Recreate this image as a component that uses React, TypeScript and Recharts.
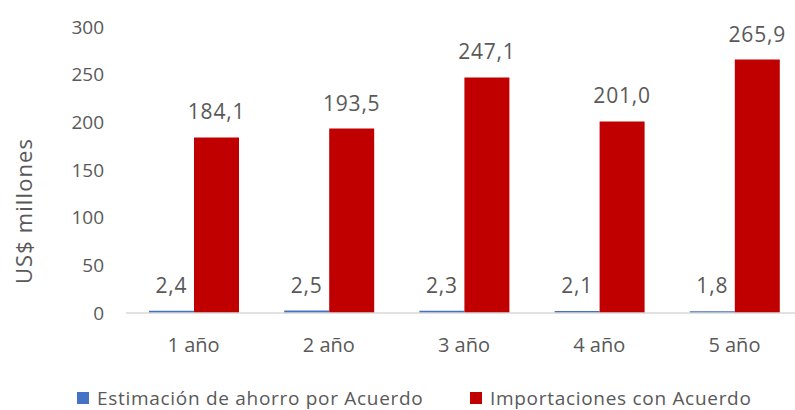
import React from 'react';
import { BarChart, Bar, XAxis, YAxis, LabelList, Legend } from 'recharts';

const categories = ['1 año', '2 año', '3 año', '4 año', '5 año'];
const ahorro = [2.4, 2.5, 2.3, 2.1, 1.8];
const importaciones = [184.1, 193.5, 247.1, 201.0, 265.9];
const yTicks = [0, 50, 100, 150, 200, 250, 300];

const seriesNames = ['Estimación de ahorro por Acuerdo', 'Importaciones con Acuerdo'];
const BLUE = '#4472C4';
const RED = '#C00000';
const TEXT = '#595959';
const FONT = '"Open Sans", "Liberation Sans", sans-serif';

const data = categories.map((name, i) => ({
  name,
  ahorro: ahorro[i],
  importaciones: importaciones[i],
}));

const fmt = (v: number) => v.toFixed(1).replace('.', ',');

const YTitle = (props: any) => {
  const { viewBox } = props;
  const cx = viewBox.x + 23;
  const cy = viewBox.y + viewBox.height / 2 + 41;
  return (
    <text
      x={cx}
      y={cy}
      transform={`rotate(-90, ${cx}, ${cy})`}
      textAnchor="middle"
      dominantBaseline="central"
      fill={TEXT}
      fontSize={22}
      letterSpacing={1.1}
      fontFamily={FONT}
    >
      US$ millones
    </text>
  );
};

const LegendContent = () => {
  const colors = [BLUE, RED];
  return (
    <div style={{ display: 'flex', fontFamily: FONT, fontSize: 19, letterSpacing: 0.7, color: TEXT }}>
      {seriesNames.map((name, i) => (
        <div key={name} style={{ display: 'flex', alignItems: 'center', width: i === 0 ? 393 : 'auto', whiteSpace: 'nowrap' }}>
          <span style={{ display: 'inline-block', width: 12, height: 12, background: colors[i], marginRight: 8 }} />
          <span>{name}</span>
        </div>
      ))}
    </div>
  );
};

export default function App() {
  return (
    <div style={{ position: 'absolute', left: 0, top: 0, width: 795, height: 410, overflow: 'hidden', background: '#fff' }}>
      <BarChart
        width={802}
        height={410}
        data={data}
        margin={{ top: 27, right: 0, left: 0, bottom: 57 }}
        barGap={0}
        barSize={45}
      >
        <XAxis
          dataKey="name"
          height={40}
          tickLine={false}
          axisLine={{ stroke: '#D9D9D9', strokeWidth: 1.5 }}
          tickMargin={19}
          tick={{ fill: TEXT, fontSize: 20, fontFamily: FONT }}
        />
        <YAxis
          width={126}
          domain={[0, 300]}
          ticks={yTicks}
          interval={0}
          axisLine={false}
          tickLine={false}
          tickMargin={16}
          tick={{ fill: TEXT, fontSize: 19, fontFamily: FONT }}
          label={{ content: YTitle }}
        />
        <Legend
          verticalAlign="middle"
          align="center"
          layout="horizontal"
          content={LegendContent}
          wrapperStyle={{ top: 385, left: 77, width: 725 }}
        />
        <Bar dataKey="ahorro" name={seriesNames[0]} fill={BLUE} isAnimationActive={false}>
          <LabelList
            dataKey="ahorro"
            position="top"
            offset={18}
            formatter={(v: any) => fmt(Number(v))}
            fill={TEXT}
            fontSize={21}
            letterSpacing={0.8}
            fontFamily={FONT}
          />
        </Bar>
        <Bar dataKey="importaciones" name={seriesNames[1]} fill={RED} isAnimationActive={false}>
          <LabelList
            dataKey="importaciones"
            position="top"
            offset={18}
            formatter={(v: any) => fmt(Number(v))}
            fill={TEXT}
            fontSize={21}
            letterSpacing={0.8}
            fontFamily={FONT}
          />
        </Bar>
      </BarChart>
    </div>
  );
}
